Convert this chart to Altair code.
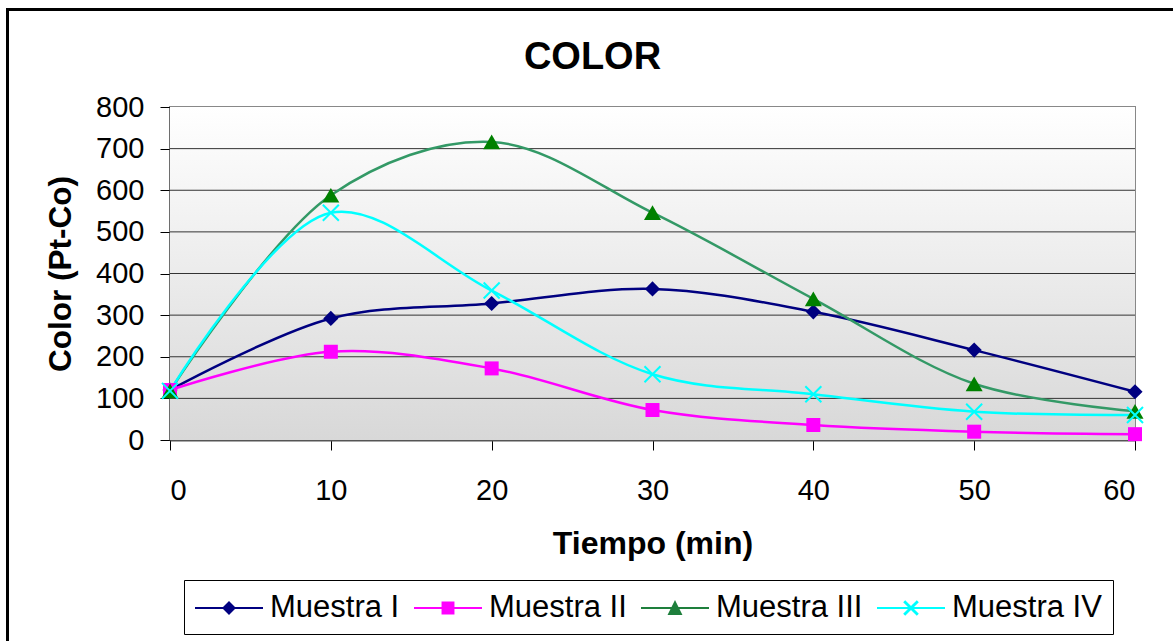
import altair as alt
import pandas as pd

# Sampling times (min) and colour readings (Pt-Co) for each sample
tiempo = [0, 10, 20, 30, 40, 50, 60]
muestra_i = [120, 292, 328, 363, 308, 216, 116]
muestra_ii = [120, 212, 172, 72, 36, 20, 14]
muestra_iii = [118, 588, 716, 546, 339, 135, 69]
muestra_iv = [118, 546, 359, 158, 110, 68, 60]

series = ["Muestra I", "Muestra II", "Muestra III", "Muestra IV"]
line_colors = ["#000080", "#FF00FF", "#339966", "#00FFFF"]
marker_colors = ["#000080", "#FF00FF", "#008000", "#00FFFF"]
legend_colors = ["#000080", "#FF00FF", "#1E7F3C", "#00FFFF"]

x_ticks = [0, 10, 20, 30, 40, 50, 60]
y_ticks = [0, 100, 200, 300, 400, 500, 600, 700, 800]

W, H = 965, 333
FONT = "Liberation Sans"

df = pd.DataFrame({
    "Tiempo": tiempo * 4,
    "Color": muestra_i + muestra_ii + muestra_iii + muestra_iv,
    "Serie": [s for s in series for _ in tiempo],
})

x_scale = alt.Scale(domain=[0, 60], nice=False)
y_scale = alt.Scale(domain=[0, 800], nice=False)

x_enc = alt.X(
    "Tiempo:Q", scale=x_scale,
    axis=alt.Axis(
        values=x_ticks, title="Tiempo (min)", grid=False,
        labelFontSize=29, labelPadding=26, tickSize=10,
        titleFontSize=32, titleFontWeight="bold", titlePadding=23,
    ),
)
y_enc = alt.Y(
    "Color:Q", scale=y_scale,
    axis=alt.Axis(
        values=y_ticks, title="Color (Pt-Co)", grid=False,
        labelFontSize=29, labelPadding=16, tickSize=10,
        titleFontSize=31.5, titleFontWeight="bold", titlePadding=18,
    ),
)

base = alt.Chart(df).encode(x=x_enc, y=y_enc)
one_row = pd.DataFrame({"k": [0]})

# Plot-area background: light grey gradient fading to white at the top
background = alt.Chart(one_row).mark_rect(
    fill=alt.LinearGradient(
        gradient="linear", x1=0, x2=0, y1=0, y2=1,
        stops=[alt.GradientStop(color="#FFFFFF", offset=0),
               alt.GradientStop(color="#D8D8D8", offset=1)],
    )
).encode(x=alt.value(0), x2=alt.value(W), y=alt.value(0), y2=alt.value(H))

# Horizontal gridlines at each major tick
grid = alt.Chart(pd.DataFrame({"Color": y_ticks[1:-1]})).mark_rule(
    color="#333333", strokeWidth=1
).encode(y=y_enc)

# Outer frame around the whole figure
frame = alt.Chart(one_row).mark_rect(
    filled=False, stroke="black", strokeWidth=3
).encode(
    x=alt.value(-162.5), x2=alt.value(1010),
    y=alt.value(-97.5), y2=alt.value(545),
)

# Smoothed series lines, one layer per sample
lines = [
    base.transform_filter(alt.datum.Serie == s).mark_line(
        interpolate="catmull-rom", strokeWidth=2.5, color=c
    )
    for s, c in zip(series, line_colors)
]

# Markers for each series
x_path = "M-1,-1L1,1M-1,1L1,-1"
marker_specs = [
    dict(shape="diamond", filled=True, size=230),
    dict(shape="square", filled=True, size=196),
    dict(shape="triangle-up", filled=True, size=289),
    dict(shape=x_path, filled=False, size=256, strokeWidth=2),
]
points = [
    base.transform_filter(alt.datum.Serie == s).mark_point(color=c, opacity=1, **spec)
    for s, c, spec in zip(series, marker_colors, marker_specs)
]

# Legend glyphs: a short line segment with the series marker in its middle
legend_paths = [
    "M-1,-0.065H3V0.065H-1Z M1,-0.41L1.41,0L1,0.41L0.59,0Z",
    "M-1,-0.065H3V0.065H-1Z M0.62,-0.38H1.38V0.38H0.62Z",
    "M-1,-0.065H3V0.065H-1Z M1,-0.47L1.44,0.41L0.56,0.41Z",
    "M-1,-0.065H3V0.065H-1Z M0.54,-0.34L0.66,-0.46L1.46,0.34L1.34,0.46Z "
    "M1.34,-0.46L1.46,-0.34L0.66,0.46L0.54,0.34Z",
]
leg = alt.Legend(
    title=None, orient="none", legendX=14, legendY=473,
    direction="horizontal", columns=4, columnPadding=14,
    labelFontSize=31, labelFont=FONT, labelColor="black", labelOffset=41,
    symbolSize=1156, symbolStrokeWidth=0, symbolOpacity=1,
    padding=11, strokeColor="black", fillColor="white",
)
legend_layer = base.mark_point(filled=True, opacity=0, size=1156).encode(
    fill=alt.Fill("Serie:N", scale=alt.Scale(domain=series, range=legend_colors), legend=leg),
    shape=alt.Shape("Serie:N", scale=alt.Scale(domain=series, range=legend_paths), legend=leg),
)

# The frame reaches above the plot, so the title offset is negative
chart = alt.layer(background, grid, frame, *lines, *points, legend_layer).properties(
    width=W, height=H,
    title=alt.TitleParams(
        "COLOR", anchor="middle", frame="group", dx=-60, offset=-99,
        baseline="alphabetic", fontSize=38, fontWeight="bold", font=FONT, color="black",
    ),
    autosize=alt.AutoSizeParams(type="none"),
    padding={"left": 170, "top": 107, "right": 38, "bottom": 201},
).configure(
    font=FONT, background="white"
).configure_axis(
    labelFont=FONT, titleFont=FONT, labelColor="black", titleColor="black",
    domainColor="#555555", domainWidth=2, tickColor="black", tickWidth=1,
).configure_view(
    stroke="#888888", strokeWidth=2,
)

chart.save("out.html", embed_options={"renderer": "svg", "actions": False})
